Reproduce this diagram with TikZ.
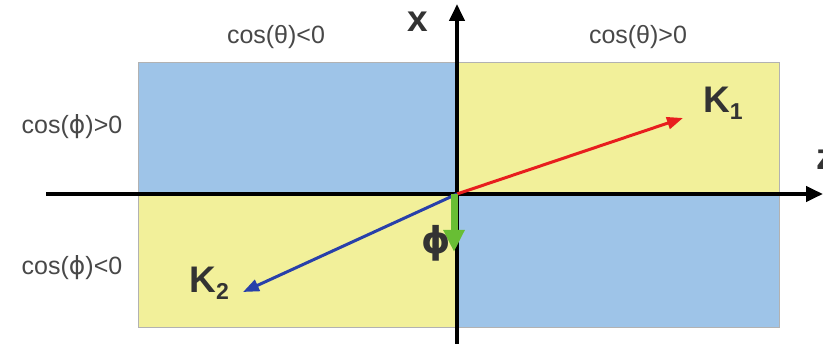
\documentclass[tikz,border=0pt]{standalone}
\usepackage{fontspec}
\setmainfont{Liberation Sans}
\newfontfamily\phifont{DejaVu Sans}
\usepackage{tikz}
\usetikzlibrary{positioning}
\usetikzlibrary{arrows.meta}
\definecolor{quadblue}{RGB}{158,196,232}
\definecolor{quadyellow}{RGB}{242,240,154}
\definecolor{signgray}{RGB}{72,72,72}
\definecolor{vecred}{RGB}{232,30,30}
\definecolor{vecblue}{RGB}{40,64,170}
\definecolor{vecgreen}{RGB}{104,190,52}
\newcommand{\phisym}{{\phifont ϕ}}

\begin{document}
\begin{tikzpicture}[
  x=1pt, y=-1pt,
  axis/.style={line width=4pt, -{Triangle[length=17pt,width=15pt]}},
  vec/.style={line width=3pt, -{Triangle[length=16pt,width=12pt]}},
  quad/.style={draw=black!30, line width=0.8pt},
  sign/.style={text=signgray, inner sep=0pt, font=\fontsize{25}{28}\selectfont},
  big/.style={text=black!80, inner sep=0pt, font=\bfseries\fontsize{37}{40}\selectfont},
]
  \useasboundingbox (0,0) rectangle (823,344);
  \coordinate (O) at (457,194);

  % quadrants
  \fill[quadblue]   (138,62)  rectangle (O);
  \fill[quadyellow] (779,62)  rectangle (O);
  \fill[quadyellow] (138,327) rectangle (O);
  \fill[quadblue]   (779,327) rectangle (O);
  \draw[quad] (138,62) rectangle (779,327);
  \draw[quad] (138,194) -- (779,194) (457,62) -- (457,327);

  % axes
  \coordinate (zstart) at (46,194);
  \coordinate (zend) at (823,194);
  \coordinate (xstart) at (457,350);
  \coordinate (xend) at (457,4);
  \draw[axis] (zstart) -- (zend);
  \draw[axis] (xstart) -- (xend);
  \node[big] (xlab) at (418,22) {x};
  \node[big, anchor=west] (zlab) at (816,160) {z};

  % vectors
  \coordinate (k1tip) at (683,118);
  \coordinate (k2tip) at (243,292);
  \coordinate (phitip) at (454,252);
  \draw[vec, vecred] (O) -- (k1tip);
  \draw[vec, vecblue] (O) -- (k2tip);
  \draw[vecgreen, line width=7pt, -{Triangle[length=22pt,width=20pt]}] ([xshift=-3pt]O) -- (phitip);
  \node[big] (K1) [above right=-2pt and 20pt of k1tip] {K\raisebox{-7pt}{\fontsize{23}{24}\selectfont 1}};
  \node[big] (K2) [left=14pt of k2tip, yshift=9pt] {K\raisebox{-7pt}{\fontsize{23}{24}\selectfont 2}};
  \node[big] (phi) at (436,243) {\phisym};

  % signs
  \node[sign] (thneg) at (276,37) {cos(θ)<0};
  \node[sign] (thpos) at (638,37) {cos(θ)>0};
  \node[sign] (phpos) at (72,127) {cos(\phisym)>0};
  \node[sign] (phneg) at (72,268) {cos(\phisym)<0};
\end{tikzpicture}
\end{document}
